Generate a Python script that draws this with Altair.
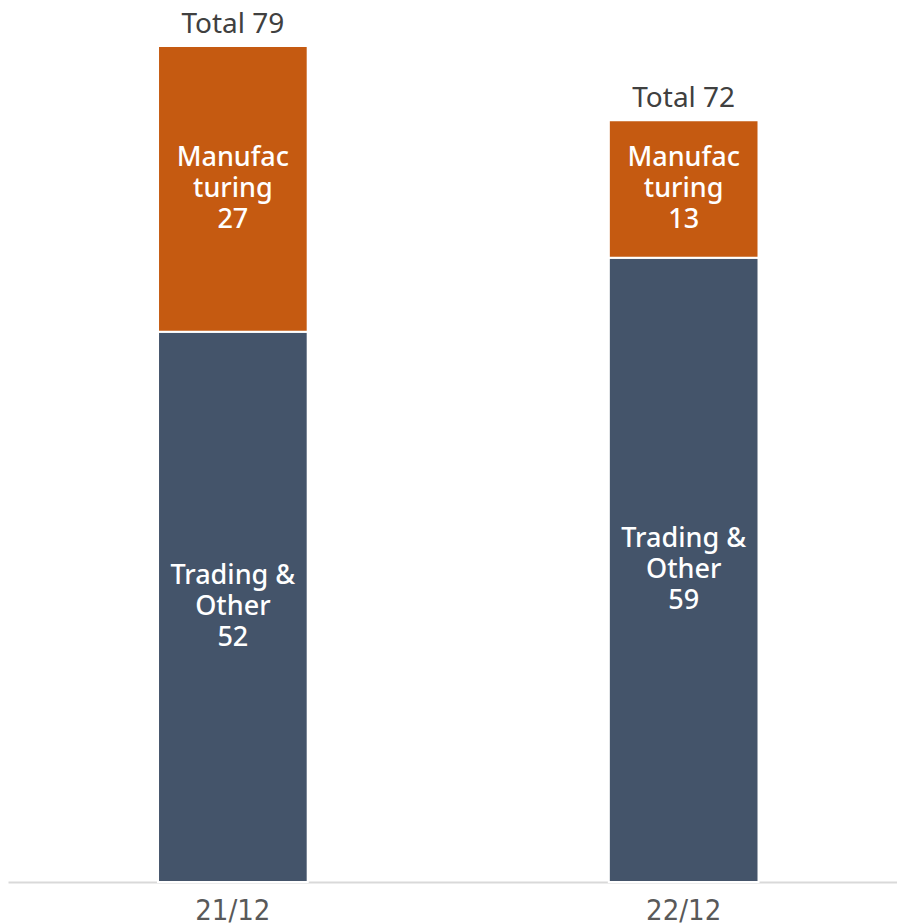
import altair as alt
import pandas as pd

periods = ["21/12", "22/12"]
segments = ["Trading & Other", "Manufacturing"]
segment_label_lines = [["Trading &", "Other"], ["Manufac", "turing"]]
trading = [52, 59]
manufacturing = [27, 13]
colors = ["#44546A", "#C55A11"]

rows = []
for i, p in enumerate(periods):
    base = 0
    for j, (seg, vals) in enumerate(zip(segments, [trading, manufacturing])):
        v = vals[i]
        rows.append({
            "period": p, "segment": seg, "value": v,
            "start": base, "end": base + v, "mid": base + v / 2,
            "label": "\n".join(segment_label_lines[j] + [str(v)]),
        })
        base += v
df = pd.DataFrame(rows)
totals = pd.DataFrame({
    "period": periods,
    "total": [t + m for t, m in zip(trading, manufacturing)],
})
totals["label"] = ["Total " + str(t) for t in totals["total"]]

xscale = alt.Scale(domain=periods, paddingInner=0.668, paddingOuter=0.32, align=0.52)
yscale = alt.Scale(domain=[0, 82.6], nice=False, zero=True)

x = alt.X("period:N", scale=xscale, sort=periods, title=None,
          axis=alt.Axis(labelAngle=0, ticks=False, domainColor="#D9D9D9", domainWidth=2,
                        labelFont="DejaVu Sans Condensed, sans-serif", labelBaseline="alphabetic",
                        labelFontSize=29, labelColor="#595959", labelPadding=37, grid=False))

bars = alt.Chart(df).mark_bar(stroke="white", strokeWidth=2).encode(
    x=x,
    y=alt.Y("start:Q", scale=yscale, axis=None),
    y2="end:Q",
    color=alt.Color("segment:N", scale=alt.Scale(domain=segments, range=colors), legend=None),
)

seg_text = alt.Chart(df).mark_text(
    color="white", font="Noto Sans", fontSize=27, fontWeight=500,
    lineBreak="\n", lineHeight=31, baseline="middle", align="center", dy=-31,
).encode(
    x=alt.X("period:N", scale=xscale, sort=periods),
    y=alt.Y("mid:Q", scale=yscale),
    text="label:N",
)

tot_text = alt.Chart(totals).mark_text(
    color="#404040", font="Noto Sans", fontSize=28, baseline="alphabetic",
    align="center", dy=-13,
).encode(
    x=alt.X("period:N", scale=xscale, sort=periods),
    y=alt.Y("total:Q", scale=yscale),
    text="label:N",
)

chart = alt.layer(bars, seg_text, tot_text).properties(
    width=889, height=874, background="white",
    autosize=alt.AutoSizeParams(type="none"),
    padding={"left": 0, "top": 0, "right": 0, "bottom": 45},
).configure_view(strokeWidth=0)

chart.save("out.html", embed_options={"renderer": "svg", "actions": False})
